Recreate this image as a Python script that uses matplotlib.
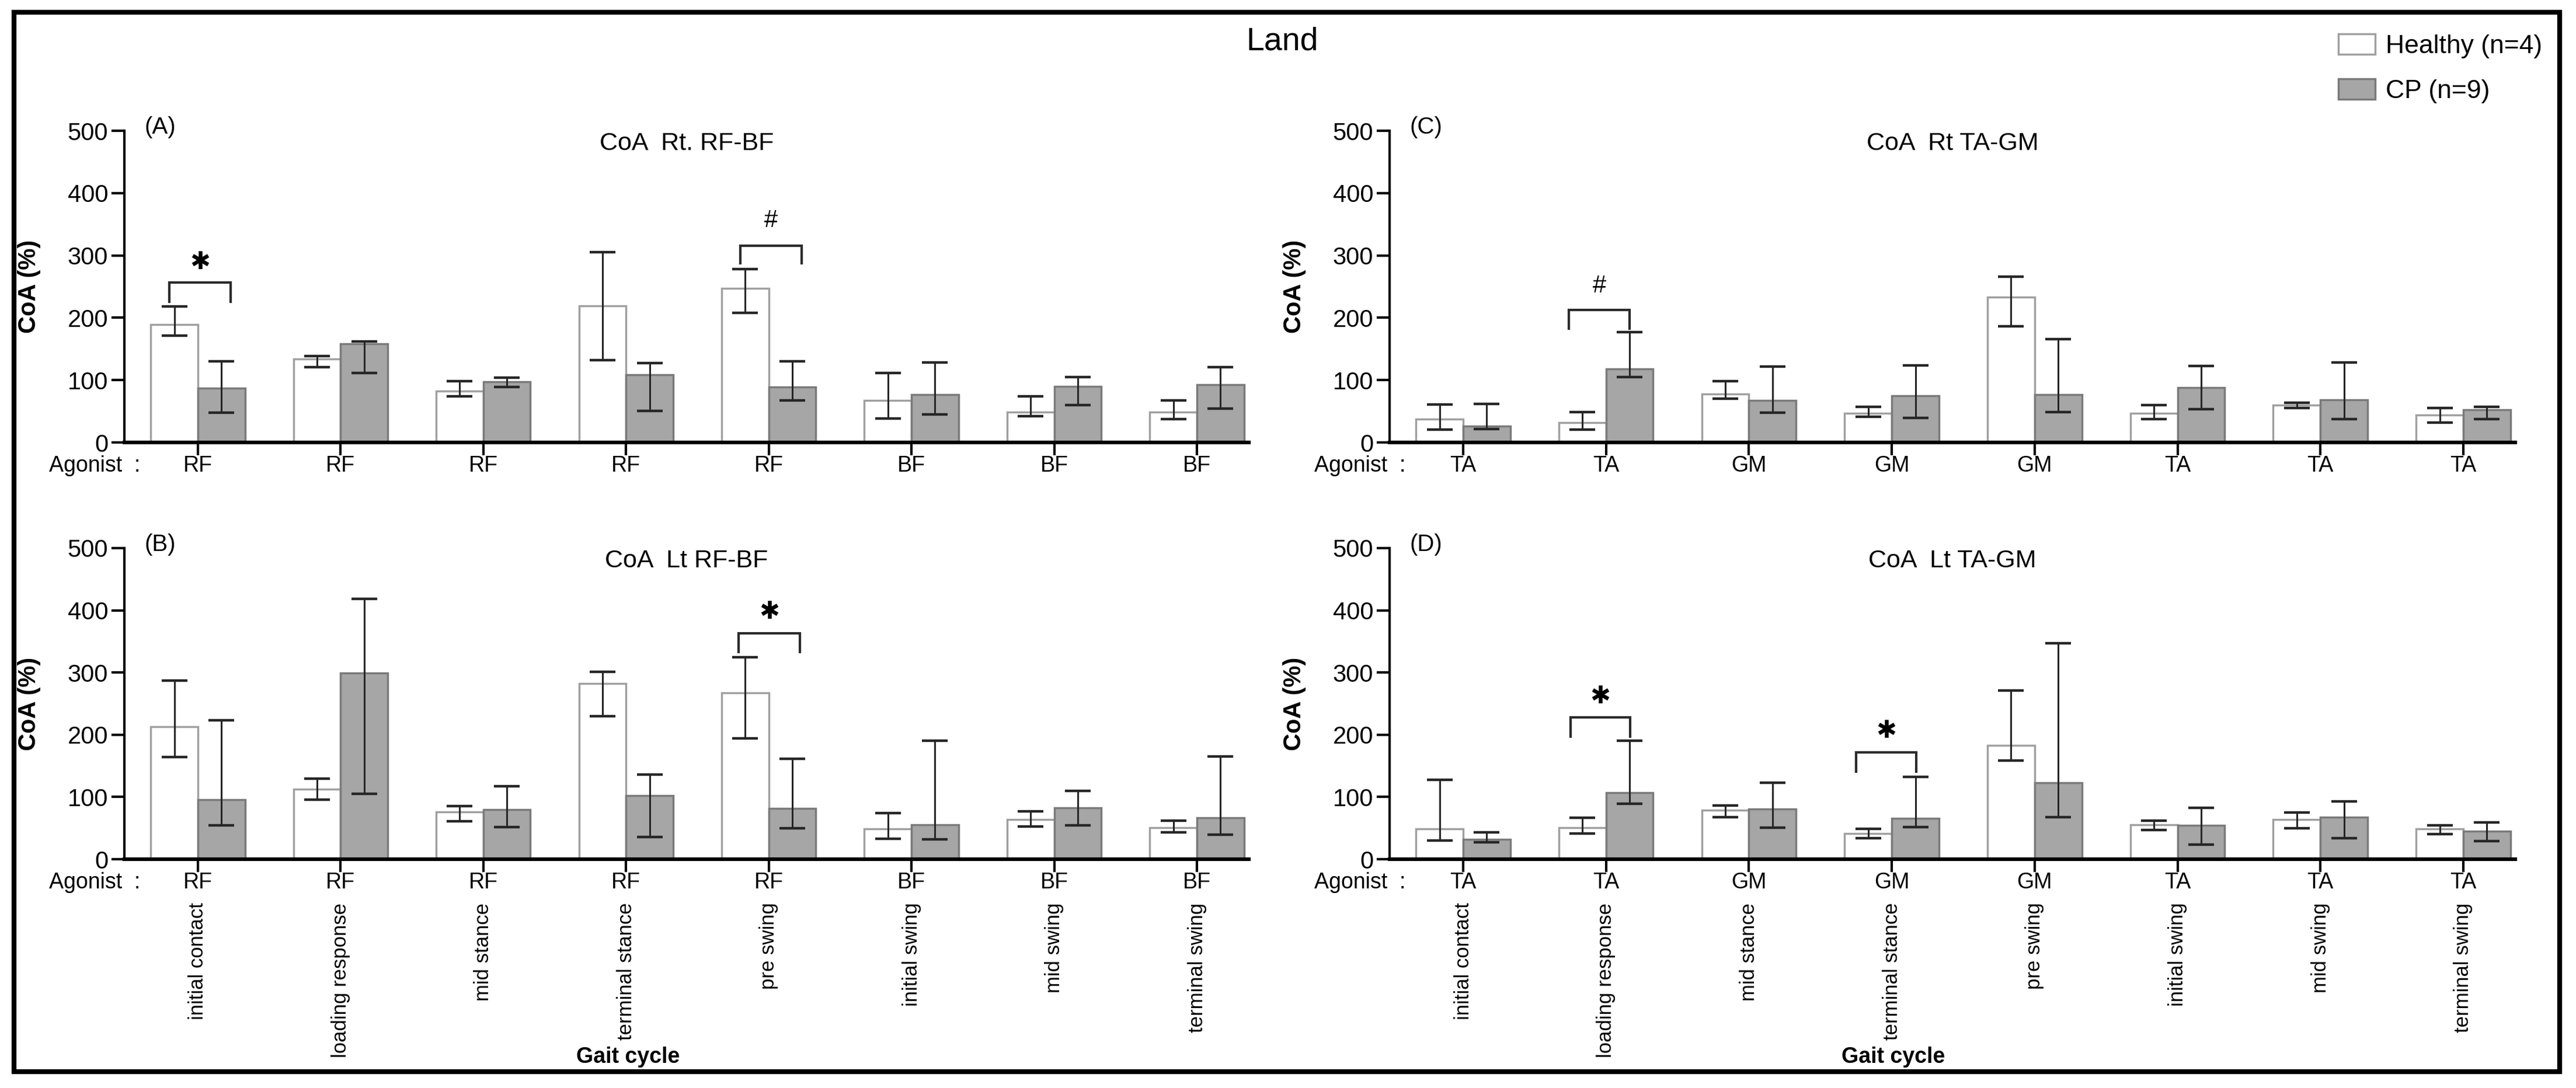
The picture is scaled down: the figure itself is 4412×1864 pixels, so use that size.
import numpy as np
import matplotlib
matplotlib.use('Agg')
import matplotlib.pyplot as plt
from matplotlib.patches import Rectangle

plt.rcParams['font.family'] = ['Liberation Sans', 'DejaVu Sans']

# Gait phases and agonist muscles
phases = ['initial contact', 'loading response', 'mid stance', 'terminal stance',
          'pre swing', 'initial swing', 'mid swing', 'terminal swing']
agonist_rf_bf = ['RF', 'RF', 'RF', 'RF', 'RF', 'BF', 'BF', 'BF']
agonist_ta_gm = ['TA', 'TA', 'GM', 'GM', 'GM', 'TA', 'TA', 'TA']

# (A) CoA Rt. RF-BF
healthy_A = [189, 134, 82, 219, 247, 67, 49, 49]
healthy_A_lo = [171, 121, 74, 132, 208, 38, 42, 37]
healthy_A_hi = [218, 139, 98, 305, 278, 111, 74, 67]
cp_A = [87, 158, 97, 109, 89, 77, 90, 93]
cp_A_lo = [48, 111, 89, 51, 67, 45, 60, 54]
cp_A_hi = [130, 162, 104, 127, 130, 128, 105, 121]

# (B) CoA Lt RF-BF
healthy_B = [213, 113, 76, 282, 267, 49, 64, 51]
healthy_B_lo = [164, 96, 61, 230, 194, 33, 53, 43]
healthy_B_hi = [287, 129, 85, 301, 325, 74, 77, 62]
cp_B = [96, 299, 80, 102, 82, 55, 83, 67]
cp_B_lo = [54, 105, 52, 36, 50, 32, 54, 39]
cp_B_hi = [223, 418, 117, 136, 161, 190, 110, 165]

# (C) CoA Rt TA-GM
healthy_C = [37, 32, 78, 47, 233, 47, 60, 44]
healthy_C_lo = [21, 21, 70, 41, 186, 37, 55, 32]
healthy_C_hi = [61, 49, 98, 57, 266, 60, 64, 55]
cp_C = [26, 118, 67, 75, 77, 88, 68, 52]
cp_C_lo = [22, 105, 48, 39, 49, 53, 37, 37]
cp_C_hi = [62, 177, 122, 124, 166, 123, 128, 57]

# (D) CoA Lt TA-GM
healthy_D = [49, 51, 79, 41, 183, 55, 64, 49]
healthy_D_lo = [30, 41, 68, 34, 159, 47, 50, 40]
healthy_D_hi = [128, 67, 86, 49, 271, 62, 75, 54]
cp_D = [32, 107, 81, 66, 123, 54, 68, 45]
cp_D_lo = [27, 89, 51, 52, 68, 23, 34, 29]
cp_D_hi = [43, 190, 123, 132, 347, 83, 93, 59]

# significance marks: (group index, symbol, bracket top, bracket leg bottom, symbol y)
sig_A = [(0, '*', 257, 226, 289), (4, '#', 316, 287, 356)]
sig_B = [(4, '*', 363, 333, 398)]
sig_C = [(1, '#', 213, 183, 251)]
sig_D = [(1, '*', 228, 197, 262), (3, '*', 172, 141, 206)]

W, H = 4412, 1864
fig = plt.figure(figsize=(W / 100, H / 100), dpi=100)


def px_axes(x0, y0, x1, y1):
    return fig.add_axes([x0 / W, 1 - y1 / H, (x1 - x0) / W, (y1 - y0) / H])


panels = [
    ('(A)', 'CoA  Rt. RF-BF', (213, 224, 2139, 758), healthy_A, healthy_A_lo, healthy_A_hi,
     cp_A, cp_A_lo, cp_A_hi, agonist_rf_bf, sig_A, False, (-0.20, 0.23)),
    ('(C)', 'CoA  Rt TA-GM', (2380, 224, 4308, 758), healthy_C, healthy_C_lo, healthy_C_hi,
     cp_C, cp_C_lo, cp_C_hi, agonist_ta_gm, sig_C, False, (-0.26, 0.165)),
    ('(B)', 'CoA  Lt RF-BF', (213, 939, 2139, 1472), healthy_B, healthy_B_lo, healthy_B_hi,
     cp_B, cp_B_lo, cp_B_hi, agonist_rf_bf, sig_B, True, (-0.21, 0.22)),
    ('(D)', 'CoA  Lt TA-GM', (2380, 939, 4308, 1472), healthy_D, healthy_D_lo, healthy_D_hi,
     cp_D, cp_D_lo, cp_D_hi, agonist_ta_gm, sig_D, True, (-0.25, 0.17)),
]

bw = 0.33
x = np.arange(len(phases))
for (tag, title, box, h, h_lo, h_hi, c, c_lo, c_hi, agon, sig, bottom, bo) in panels:
    ax = px_axes(*box)
    h, h_lo, h_hi = np.array(h), np.array(h_lo), np.array(h_hi)
    c, c_lo, c_hi = np.array(c), np.array(c_lo), np.array(c_hi)

    hb = ax.bar(x - bw / 2, h, bw, color='white', edgecolor='#a0a0a0', linewidth=2.5,
                label='Healthy (n=4)', zorder=2)
    cb = ax.bar(x + bw / 2, c, bw, color='#a6a6a6', edgecolor='#7a7a7a', linewidth=2.5,
                label='CP (n=9)', zorder=2)
    ax.errorbar(x - bw / 2, h, yerr=[h - h_lo, h_hi - h], fmt='none', ecolor='#262626',
                elinewidth=2.2, capsize=16, capthick=3.2, zorder=3)
    ax.errorbar(x + bw / 2, c, yerr=[c - c_lo, c_hi - c], fmt='none', ecolor='#262626',
                elinewidth=2.2, capsize=16, capthick=3.2, zorder=3)

    ax.set_xlim(-0.515, 7.364)
    ax.set_ylim(0, 500)
    ax.set_yticks([0, 100, 200, 300, 400, 500])
    ax.set_xticks(x)
    ax.set_xticklabels([])
    ax.tick_params(axis='y', direction='out', length=16, width=3, labelsize=30, pad=4)
    ax.tick_params(axis='x', direction='out', length=16, width=3, labelsize=1)
    for s in ['top', 'right']:
        ax.spines[s].set_visible(False)
    ax.spines['left'].set_linewidth(3)
    ax.spines['bottom'].set_linewidth(4.5)
    ax.spines['bottom'].set_zorder(4)

    ax.set_ylabel('CoA (%)', fontsize=30, fontweight='bold', labelpad=0)
    ax.yaxis.set_label_coords(-0.074, 0.5)
    ax.text(0.5, 0.958, title, transform=ax.transAxes, ha='center', va='center', fontsize=31)
    ax.text(0.018, 1.012, tag, transform=ax.transAxes, ha='left', va='center', fontsize=29)

    # agonist labels under each tick
    trans = ax.get_xaxis_transform()
    for xi, a in zip(x, agon):
        ax.text(xi, -0.075, a, transform=trans, ha='center', va='center', fontsize=27,
                clip_on=False)
    if bottom:
        for xi, p in zip(x, phases):
            ax.text(xi, -0.14, p, transform=trans, ha='center', va='top', rotation=90,
                    fontsize=25, clip_on=False)

    # significance brackets
    for gi, sym, top, leg, sy in sig:
        x0, x1 = gi + bo[0], gi + bo[1]
        ax.plot([x0, x0, x1, x1], [leg, top, top, leg], color='#2b2b2b', lw=3,
                solid_joinstyle='miter', zorder=3)
        xm = (x0 + x1) / 2
        if sym == '*':
            ax.text(xm, sy, '\u2731', ha='center', va='center', fontsize=30,
                    family=['DejaVu Sans'], fontweight='bold')
        else:
            ax.text(xm, sy, '#', ha='center', va='center', fontsize=30)

    left = box[0]
    fig.text((left - 129) / W, 1 - (box[3] + 40) / H, 'Agonist  :', ha='left', va='center',
             fontsize=27)
    if bottom:
        fig.text((left + 863) / W, 1 - 1811 / H, 'Gait cycle', ha='center', va='center',
                 fontsize=27, fontweight='bold')

fig.text(2196 / W, 1 - 71 / H, 'Land', ha='center', va='center', fontsize=40)

leg = fig.legend(handles=[hb, cb], loc='upper left', bbox_to_anchor=(4005 / W, 1 - 58 / H),
                 frameon=False, fontsize=32, handlelength=1.42, handleheight=0.82,
                 handletextpad=0.4, labelspacing=0.8, borderpad=0, borderaxespad=0)

# outer frame
fig.patches.append(Rectangle((24 / W, 1 - 1836 / H), (4384 - 24) / W, (1836 - 21) / H,
                             transform=fig.transFigure, fill=False, edgecolor='black',
                             linewidth=6))

fig.savefig('out.png', dpi=100)
